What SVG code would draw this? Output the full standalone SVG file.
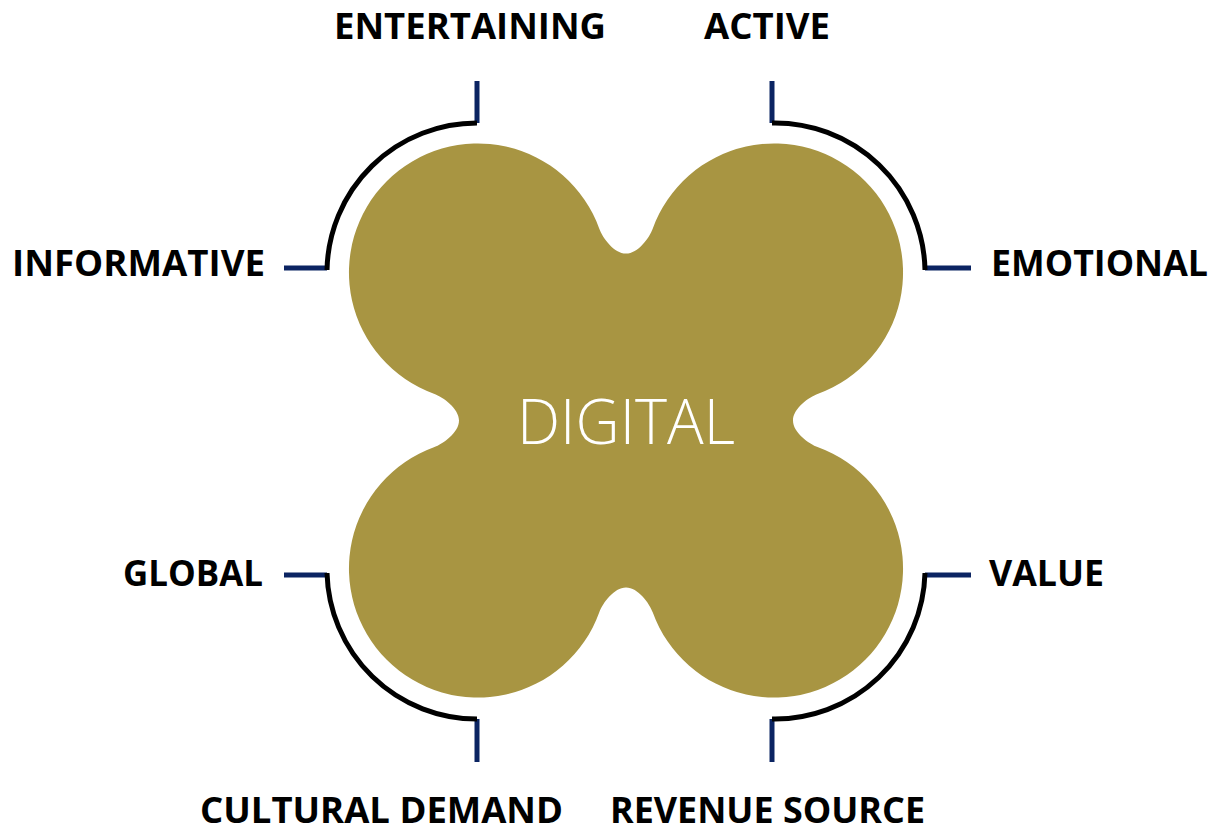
<svg xmlns="http://www.w3.org/2000/svg" width="1214" height="831" viewBox="0 0 1214 831">
  <defs>
    <style>
      .label { font-family: "Open Sans", "Liberation Sans", sans-serif; font-weight: 700; font-size: 35px; fill: #000000; }
      .center-label { font-family: "Open Sans", "Liberation Sans", sans-serif; font-weight: 300; font-size: 63px; fill: #ffffff; }
      .bracket { fill: none; stroke: #000000; stroke-width: 5; }
      .tick { fill: none; stroke: #0b2462; stroke-width: 5; }
      .blob { fill: #a89542; }
    </style>
  </defs>
  <rect width="1214" height="831" fill="#ffffff"/>

  <!-- central four-lobed shape: four circles joined, with rounded slots between them -->
  <g id="node-digital">
    <path class="blob" transform="translate(626 420.5)" d="M 0,-167
      C 12,-167 23.4,-182.7 26.8,-192.1
      A 129 129 0 1 1 192.1,-26.8
      C 182.7,-23.4 167,-12 167,0
      C 167,12 182.7,23.4 192.1,26.8
      A 129 129 0 1 1 26.8,192.1
      C 23.4,182.7 12,167 0,167
      C -12,167 -23.4,182.7 -26.8,192.1
      A 129 129 0 1 1 -192.1,26.8
      C -182.7,23.4 -167,12 -167,0
      C -167,-12 -182.7,-23.4 -192.1,-26.8
      A 129 129 0 1 1 -26.8,-192.1
      C -23.4,-182.7 -12,-167 0,-167 Z"/>
    <text class="center-label" x="517" y="444" textLength="218" lengthAdjust="spacingAndGlyphs">DIGITAL</text>
  </g>

  <!-- brackets and ticks -->
  <g id="connectors">
    <line class="tick" x1="477" y1="81" x2="477" y2="123"/>
    <line class="tick" x1="284" y1="268" x2="327" y2="268"/>
    <path class="bracket" d="M477,123 A150,150 0 0 0 327,270"/>

    <line class="tick" x1="772" y1="81" x2="772" y2="123"/>
    <line class="tick" x1="925" y1="268" x2="971" y2="268"/>
    <path class="bracket" d="M772,123 A150,150 0 0 1 925,270"/>

    <line class="tick" x1="284" y1="575" x2="327" y2="575"/>
    <line class="tick" x1="477" y1="719" x2="477" y2="762"/>
    <path class="bracket" d="M327,573 A150,150 0 0 0 477,719"/>

    <line class="tick" x1="925" y1="575" x2="971" y2="575"/>
    <line class="tick" x1="772" y1="719" x2="772" y2="762"/>
    <path class="bracket" d="M925,573 A150,150 0 0 1 772,719"/>
  </g>

  <g id="label-entertaining"><text class="label" x="334" y="39" textLength="272" lengthAdjust="spacingAndGlyphs">ENTERTAINING</text></g>
  <g id="label-active"><text class="label" x="704" y="39" textLength="126" lengthAdjust="spacingAndGlyphs">ACTIVE</text></g>
  <g id="label-informative"><text class="label" x="12" y="276" textLength="253" lengthAdjust="spacingAndGlyphs">INFORMATIVE</text></g>
  <g id="label-emotional"><text class="label" x="991" y="276" textLength="217" lengthAdjust="spacingAndGlyphs">EMOTIONAL</text></g>
  <g id="label-global"><text class="label" x="123" y="586" textLength="140" lengthAdjust="spacingAndGlyphs">GLOBAL</text></g>
  <g id="label-value"><text class="label" x="989" y="586" textLength="115" lengthAdjust="spacingAndGlyphs">VALUE</text></g>
  <g id="label-cultural-demand"><text class="label" x="200" y="823" textLength="363" lengthAdjust="spacingAndGlyphs">CULTURAL DEMAND</text></g>
  <g id="label-revenue-source"><text class="label" x="610" y="823" textLength="315" lengthAdjust="spacingAndGlyphs">REVENUE SOURCE</text></g>
</svg>
